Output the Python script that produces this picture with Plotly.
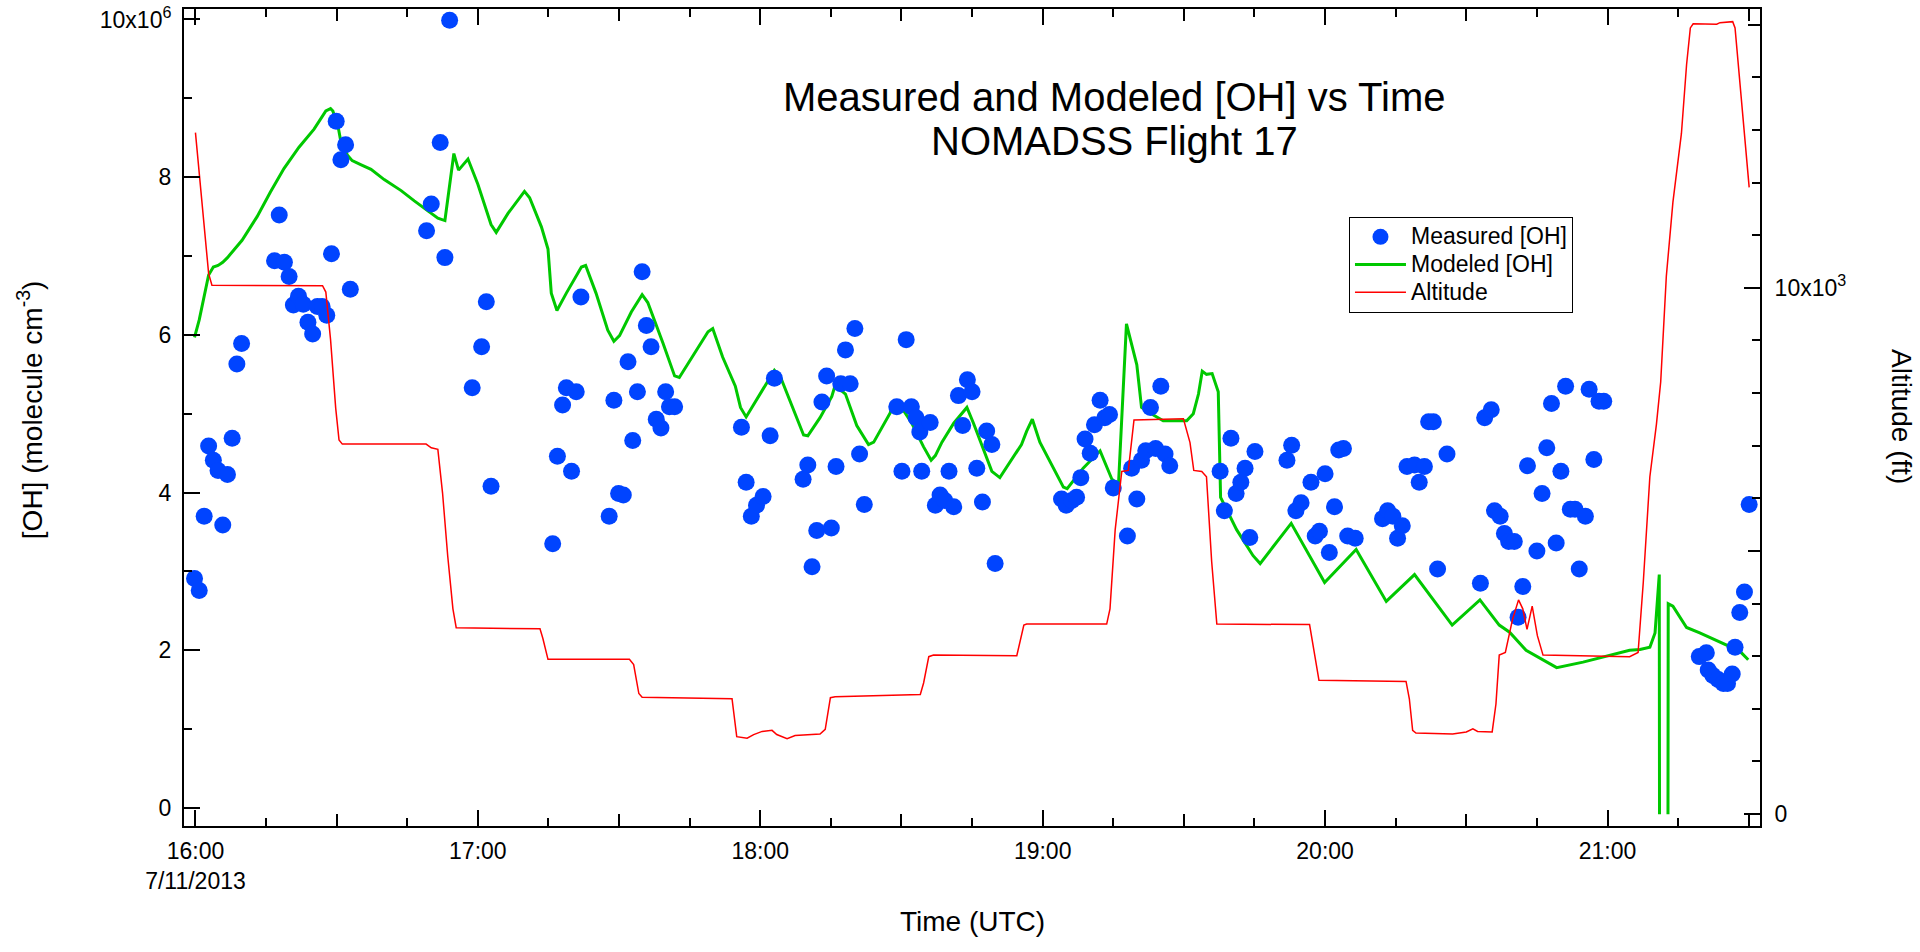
import pandas as pd
import plotly.graph_objects as go

T0 = pd.Timestamp("2013-07-11 16:00:00")
FONT = "Liberation Sans, Arial, Helvetica, sans-serif"

# ---- Measured [OH]: minutes after 16:00 UTC, value in 1e6 molecule cm^-3
meas_min = [
    -0.2, 0.8, 1.85, 2.8, 3.8, 4.8, 5.8, 6.8, 7.8, 8.8, 9.8,
    16.8, 17.8, 18.9, 19.9, 20.8, 21.9, 22.9, 23.9, 24.9, 25.9, 26.9, 27.9, 28.9, 29.9, 30.9, 31.9, 32.9,
    49.1, 50.1, 52.0, 53.0, 54.0,
    58.8, 60.8, 61.8, 62.8,
    75.9, 76.9, 78.0, 78.8, 79.9, 80.9, 81.9,
    87.9, 88.9, 89.9, 90.9, 91.9, 92.9, 93.9, 94.9, 95.8, 96.8, 97.9, 98.9, 99.9, 100.7, 101.8,
    116.0, 117.0, 118.1, 119.2, 120.6, 122.1, 123.0,
    129.1, 130.1, 131.0, 132.0, 133.1, 134.1, 135.1, 136.1, 137.1, 138.1, 139.1, 140.1, 141.1, 142.1,
    149.0, 150.1, 151.0, 152.1, 153.1, 153.9, 154.3, 156.1, 157.2, 158.2, 159.2, 160.1, 161.1, 162.1,
    163.0, 164.0, 165.0, 166.0, 167.2, 168.1, 169.2, 169.9,
    184.0, 185.0, 186.2, 187.2, 188.1, 189.0, 190.1, 191.0, 192.2, 193.2, 194.2, 195.0, 198.0, 198.9,
    200.0, 201.0, 201.9, 202.9, 204.0, 205.1, 206.0, 207.0,
    217.7, 218.6, 220.0, 221.1, 222.1, 223.0, 224.0, 225.1,
    231.9, 232.9, 233.8, 234.9, 237.0, 237.9, 238.8, 240.0, 240.9, 242.0, 242.9, 243.9, 244.8, 246.4,
    252.2, 253.3, 254.4, 255.4, 256.4, 257.4, 259.0, 260.0, 261.1, 262.0, 263.0, 263.9, 265.9,
    273.0, 273.9, 275.3, 276.0, 277.2, 278.1, 279.0, 280.2, 281.0, 282.0, 283.0, 285.0,
    286.1, 287.1, 288.1, 289.1, 290.1, 291.1, 292.1, 293.1, 294.0, 295.3, 296.1, 297.1, 298.2, 299.2,
    319.5, 321.0, 321.4, 322.4, 323.5, 324.6, 325.5, 326.5, 327.1, 328.1, 329.1, 330.1,
]
meas_oh = [
    2.91, 2.76, 3.70, 4.59, 4.41, 4.28, 3.59, 4.23, 4.69, 5.63, 5.89,
    6.94, 7.52, 6.92, 6.74, 6.38, 6.49, 6.39, 6.16, 6.01, 6.36, 6.36, 6.25, 7.03, 8.71, 8.22, 8.41, 6.58,
    7.32, 7.66, 8.44, 6.98, 9.99,
    5.33, 5.85, 6.42, 4.08,
    3.35, 4.46, 5.11, 5.33, 4.27, 5.28, 6.48,
    3.70, 5.17, 3.99, 3.97, 5.66, 4.66, 5.28, 6.80, 6.12, 5.85, 4.93, 4.82, 5.28, 5.09, 5.09,
    4.83, 4.13, 3.70, 3.84, 3.95, 4.72, 5.45,
    4.17, 4.35, 3.06, 3.52, 5.15, 5.48, 3.55, 4.33, 5.38, 5.81, 5.38, 6.08, 4.49, 3.85,
    5.09, 4.27, 5.94, 5.09, 4.95, 4.77, 4.27, 4.89, 3.84, 3.97, 3.90, 4.27, 3.82, 5.23,
    4.85, 5.43, 5.28, 4.31, 3.88, 4.78, 4.61, 3.10,
    3.92, 3.84, 3.90, 3.94, 4.19, 4.68, 4.50, 4.86, 5.17, 4.95, 4.99, 4.06, 3.45, 4.31,
    3.92, 4.41, 4.53, 5.08, 4.56, 5.35, 4.49, 4.34,
    4.27, 3.77, 4.69, 3.99, 4.13, 4.31, 3.43, 4.52,
    4.41, 4.60, 3.77, 3.87, 4.13, 3.45, 3.51, 4.24, 3.24, 3.82, 4.54, 4.56, 3.45, 3.42,
    3.67, 3.77, 3.70, 3.42, 3.58, 4.33, 4.35, 4.13, 4.33, 4.90, 4.90, 3.03, 4.49,
    2.85, 4.95, 5.05, 3.77, 3.70, 3.48, 3.38, 3.38, 2.42, 2.81, 4.34, 3.26,
    3.99, 4.57, 5.13, 3.36, 4.27, 5.35, 3.79, 3.79, 3.03, 3.70, 5.31, 4.42, 5.16, 5.16,
    1.92, 1.97, 1.75, 1.68, 1.63, 1.58, 1.58, 1.70, 2.04, 2.48, 2.74, 3.85,
]

# ---- Modeled [OH]
model_min = [
    -0.2, 0.8, 2.8, 3.8, 4.8, 5.8, 6.8, 9.9, 13.1, 15.9, 18.8, 22.0, 25.2, 27.7, 28.7, 29.2, 30.4,
    30.9, 32.3, 33.3, 35.1, 37.3, 40.1, 43.7, 46.5, 49.3, 51.5, 53.0,
    54.9, 55.9, 57.9, 60.0, 62.8, 63.9, 66.4, 69.9, 71.0, 73.5, 74.9, 75.6, 76.8, 78.8, 82.0, 82.9,
    85.1, 87.6, 88.9, 90.1, 92.6, 94.9, 96.1, 99.3, 101.8, 102.8, 105.7, 108.9, 109.9, 112.0,
    114.7, 115.8, 117.0, 120.0, 123.0, 124.4, 129.2, 130.1, 132.7, 135.2, 135.9, 138.1, 140.5, 143.0,
    144.1, 147.6, 148.3, 149.7, 152.2, 154.7, 156.3, 157.2, 158.6, 161.1, 163.9, 165.3, 167.5, 169.2, 170.9,
    175.5, 176.6, 177.8, 179.4, 184.4, 185.2, 188.6, 192.2, 194.7, 196.1, 197.8, 200.0, 201.0, 202.8,
    205.6, 210.6, 212.0, 213.1, 213.9, 214.8, 216.0, 217.3, 217.8, 221.2, 224.7, 226.2,
    232.8, 239.9, 246.6, 253.0, 259.0, 267.0, 272.9, 277.0, 279.2, 282.7, 289.2, 294.8, 304.7, 306.9,
    309.0, 310.1, 311.0, 311.05, 312.0, 312.85, 312.9, 313.9, 315.4, 316.8, 319.6, 326.0, 328.1, 329.9,
]
model_oh = [
    5.97, 6.19, 6.76, 6.86, 6.88, 6.92, 6.98, 7.20, 7.50, 7.81, 8.11, 8.38, 8.61, 8.84, 8.87, 8.84, 8.61,
    8.45, 8.28, 8.21, 8.16, 8.10, 7.97, 7.83, 7.70, 7.57, 7.48, 7.45,
    8.30, 8.09, 8.23, 7.91, 7.40, 7.30, 7.54, 7.82, 7.74, 7.37, 7.09, 6.53, 6.31, 6.53, 6.86, 6.88,
    6.53, 6.06, 5.92, 5.99, 6.29, 6.51, 6.41, 5.90, 5.48, 5.46, 5.73, 6.04, 6.08, 5.72,
    5.35, 5.08, 4.96, 5.25, 5.55, 5.45, 4.73, 4.72, 4.95, 5.22, 5.36, 5.25, 4.85, 4.61,
    4.64, 5.01, 5.15, 5.11, 4.88, 4.58, 4.41, 4.47, 4.64, 4.88, 5.08, 4.88, 4.54, 4.27, 4.19,
    4.61, 4.78, 4.93, 4.64, 4.07, 4.05, 4.31, 4.53, 4.17, 4.10, 6.14, 5.62, 5.08, 5.01,
    4.91, 4.91, 5.00, 5.25, 5.54, 5.50, 5.51, 5.28, 3.94, 3.53, 3.20, 3.10,
    3.61, 2.86, 3.28, 2.62, 2.96, 2.32, 2.64, 2.32, 2.23, 2.00, 1.78, 1.85, 2.00, 2.01,
    2.04, 2.22, 2.96, -0.08, None, -0.08, 2.59, 2.56, 2.42, 2.29, 2.22, 2.05, 1.99, 1.88,
]

# ---- Altitude (ft)
alt_min = [
    0.0, 2.8, 3.5, 27.0, 27.7, 28.7, 29.8, 30.5, 31.2, 49.0, 50.1, 51.5, 52.5, 53.6, 54.7, 55.4,
    73.2, 73.8, 74.9, 92.2, 93.1, 94.2, 94.9, 114.0, 115.0, 117.2, 118.6, 120.4, 122.5, 123.5,
    125.7, 127.4, 132.7, 133.8, 134.9, 135.9, 154.0, 154.7, 155.8, 156.8, 174.5, 176.0, 176.6,
    193.6, 194.3, 195.4, 196.8, 198.2, 199.4, 209.9, 211.3, 212.1, 213.8, 214.8, 215.9, 217.0,
    236.7, 237.7, 238.7, 257.2, 257.9, 258.6, 259.3, 267.1, 270.0, 271.4, 272.4, 275.5, 276.3,
    277.0, 278.3, 279.8, 281.1, 282.0, 282.9, 284.0, 285.1, 286.3, 304.7, 306.5, 307.6, 309.0,
    310.4, 311.3, 312.5, 313.9, 315.7, 316.8, 317.6, 318.2, 323.2, 323.9, 326.6, 327.1, 328.1,
    329.2, 330.1,
]
alt_ft = [
    12950, 10270, 10050, 10040, 9920, 9020, 7710, 7110, 7030, 7030, 6960, 6930, 6100, 4900, 3900, 3540,
    3520, 3340, 2940, 2940, 2840, 2290, 2220, 2190, 1470, 1440, 1510, 1570, 1590, 1510,
    1430, 1490, 1520, 1610, 2210, 2230, 2270, 2490, 2990, 3020, 3010, 3590, 3610,
    3610, 3900, 5400, 6510, 6530, 7490, 7510, 7060, 6530, 6510, 6410, 4800, 3610,
    3600, 3100, 2540, 2520, 2190, 1590, 1540, 1520, 1560, 1620, 1570, 1560, 2090,
    3020, 3070, 3690, 4070, 3900, 3510, 3950, 3390, 3020, 2990, 3070, 4400, 6410,
    7410, 8210, 10220, 11630, 12930, 14240, 14940, 15020, 15010, 15040, 15060, 14940, 13940,
    12830, 11910,
]

# ---- Axis ticks
hour_ticks = ["16:00", "17:00", "18:00", "19:00", "20:00", "21:00"]
hour_labels = ["16:00<br>7/11/2013", "17:00", "18:00", "19:00", "20:00", "21:00"]
half_hour_ticks = ["16:30", "17:30", "18:30", "19:30", "20:30", "21:30"]
oh_tickvals = [0, 2, 4, 6, 8, 10]
oh_ticktext = ["0", "2", "4", "6", "8", "10x10<sup>6</sup>"]
alt_tickvals = [0, 10000]
alt_ticktext = ["0", "10x10<sup>3</sup>"]
alt_mid_ticks = [5000, 15000]

assert len(meas_min) == len(meas_oh)
assert len(model_min) == len(model_oh)
assert len(alt_min) == len(alt_ft)


def to_time(mins):
    return [T0 + pd.Timedelta(minutes=m) for m in mins]


def at_day(hhmm):
    return pd.Timestamp("2013-07-11 " + hhmm)


def scale(vals):
    return [None if v is None else v * 1e6 for v in vals]


def legend_name(s):
    return '<span style="font-size:23px">' + s + "</span>"


fig = go.Figure()

fig.add_trace(go.Scatter(
    x=to_time(model_min), y=scale(model_oh), mode="lines", name=legend_name("Modeled [OH]"),
    line=dict(color="#00C800", width=3), connectgaps=False, legendrank=2,
))
fig.add_trace(go.Scatter(
    x=to_time(meas_min), y=scale(meas_oh), mode="markers", name=legend_name("Measured [OH]"),
    marker=dict(color="#0044FF", size=17, line=dict(width=0)), legendrank=1,
))
fig.add_trace(go.Scatter(
    x=to_time(alt_min), y=alt_ft, mode="lines", name=legend_name("Altitude"), yaxis="y2",
    line=dict(color="#FF0000", width=1.5), legendrank=3,
))
# invisible carriers for the medium-length tick overlays
fig.add_trace(go.Scatter(x=[T0], y=[None], xaxis="x3", yaxis="y", mode="markers",
                         showlegend=False, hoverinfo="skip"))
fig.add_trace(go.Scatter(x=[T0], y=[None], xaxis="x", yaxis="y3", mode="markers",
                         showlegend=False, hoverinfo="skip"))

x_range = [pd.Timestamp("2013-07-11 15:57:34"), pd.Timestamp("2013-07-11 21:32:24")]
tickfont = dict(family=FONT, size=23, color="black")

fig.update_layout(
    width=1920, height=952,
    margin=dict(l=184, r=160, t=9, b=126, pad=0),
    paper_bgcolor="white", plot_bgcolor="white",
    font=dict(family=FONT, size=23, color="black"),
    showlegend=True,
    xaxis=dict(
        type="date", range=x_range,
        tickmode="array", tickvals=[at_day(h) for h in hour_ticks], ticktext=hour_labels,
        ticks="inside", ticklen=16, tickwidth=1.5, tickcolor="black",
        minor=dict(tick0=T0, dtick=15 * 60 * 1000, ticks="inside", ticklen=8,
                   tickwidth=1.5, tickcolor="black", showgrid=False),
        showline=True, linewidth=2, linecolor="black", mirror="ticks",
        showgrid=False, zeroline=False, tickfont=tickfont, ticklabelstandoff=3,
        automargin=False,
    ),
    xaxis3=dict(
        type="date", overlaying="x", matches="x", anchor="y", side="bottom",
        tickmode="array", tickvals=[at_day(h) for h in half_hour_ticks],
        ticks="inside", ticklen=12, tickwidth=1.5, tickcolor="black",
        showticklabels=False, showline=False, mirror="ticks", showgrid=False,
        zeroline=False, automargin=False,
    ),
    yaxis=dict(
        range=[-0.228e6, 10.133e6],
        tickmode="array", tickvals=[v * 1e6 for v in oh_tickvals], ticktext=oh_ticktext,
        ticks="inside", ticklen=16, tickwidth=1.5, tickcolor="black",
        minor=dict(tick0=0, dtick=1e6, ticks="inside", ticklen=8, tickwidth=1.5,
                   tickcolor="black", showgrid=False),
        showline=True, linewidth=2, linecolor="black", mirror=False,
        showgrid=False, zeroline=False, tickfont=tickfont, ticklabelstandoff=6,
        automargin=False,
    ),
    yaxis2=dict(
        overlaying="y", side="right", anchor="x", range=[-228, 15300],
        tickmode="array", tickvals=alt_tickvals, ticktext=alt_ticktext,
        ticks="inside", ticklen=16, tickwidth=1.5, tickcolor="black",
        minor=dict(tick0=0, dtick=1000, ticks="inside", ticklen=8, tickwidth=1.5,
                   tickcolor="black", showgrid=False),
        showline=True, linewidth=2, linecolor="black",
        showgrid=False, zeroline=False, tickfont=tickfont, ticklabelstandoff=8,
        automargin=False,
    ),
    yaxis3=dict(
        overlaying="y", side="right", anchor="x", matches="y2",
        tickmode="array", tickvals=alt_mid_ticks,
        ticks="inside", ticklen=12, tickwidth=1.5, tickcolor="black",
        showticklabels=False, showline=False, showgrid=False, zeroline=False,
        automargin=False,
    ),
    legend=dict(
        x=0.7392, y=0.7454, xanchor="left", yanchor="top",
        bgcolor="white", bordercolor="black", borderwidth=1,
        font=dict(family=FONT, size=19, color="black"),
        itemwidth=51, tracegroupgap=0,
    ),
)

ann_font = dict(family=FONT, color="black")
fig.add_annotation(text="Measured and Modeled [OH] vs Time", xref="paper", yref="paper",
                   x=0.5907, y=0.8922, xanchor="center", yanchor="middle", showarrow=False,
                   font=dict(size=40, **ann_font))
fig.add_annotation(text="NOMADSS Flight 17", xref="paper", yref="paper",
                   x=0.5907, y=0.8383, xanchor="center", yanchor="middle", showarrow=False,
                   font=dict(size=40, **ann_font))
fig.add_annotation(text="Time (UTC)", xref="paper", yref="paper",
                   x=0.5, y=-0.1163, xanchor="center", yanchor="middle", showarrow=False,
                   font=dict(size=28, **ann_font))
fig.add_annotation(text="[OH] (molecule cm<sup>-3</sup>)", xref="paper", yref="paper",
                   x=-0.0977, y=0.509, xanchor="center", yanchor="middle", showarrow=False,
                   textangle=-90, font=dict(size=28, **ann_font))
fig.add_annotation(text="Altitude (ft)", xref="paper", yref="paper",
                   x=1.0901, y=0.5006, xanchor="center", yanchor="middle", showarrow=False,
                   textangle=90, font=dict(size=28, **ann_font))

fig.write_html("out.html")
